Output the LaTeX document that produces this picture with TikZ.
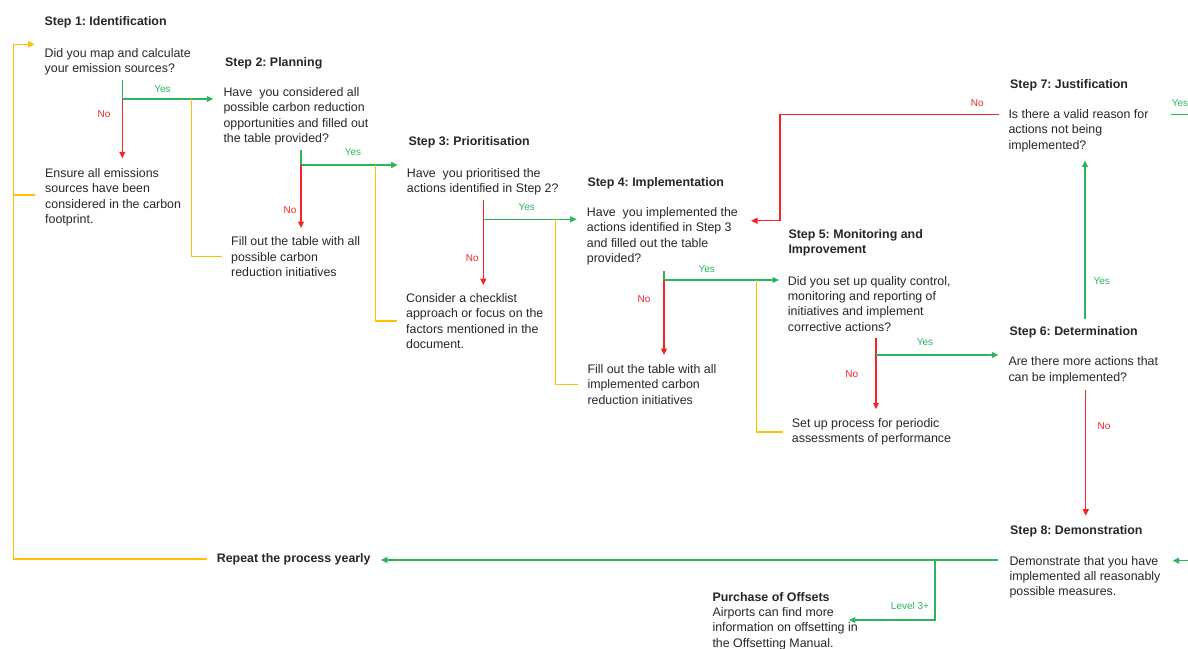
\documentclass[tikz,border=0pt]{standalone}
\usepackage{fontspec}
\setmainfont{Liberation Sans}
\usetikzlibrary{arrows.meta}
\definecolor{gr}{HTML}{2DB55D}
\definecolor{rd}{HTML}{F52525}
\definecolor{og}{HTML}{FFC000}
\definecolor{tx}{HTML}{262626}
\tikzset{
  txt/.style={anchor=north west, inner sep=0pt, align=left, text=tx, font=\fontsize{12.4}{15.3}\selectfont},
  hd/.style={txt, font=\fontsize{12.4}{15.3}\selectfont\bfseries},
  lblyes/.style={inner sep=0pt, text=gr, font=\fontsize{10}{12}\selectfont},
  lblno/.style={inner sep=0pt, text=rd, font=\fontsize{10}{12}\selectfont},
  gline/.style={draw=gr, line width=1.3pt},
  rline/.style={draw=rd, line width=1.3pt},
  oline/.style={draw=og, line width=1.3pt},
  tip/.style={-{Triangle[length=6.5pt,width=6pt]}}
}
\begin{document}
\begin{tikzpicture}[x=1pt,y=-1pt]
\useasboundingbox (0,0) rectangle (1188,648);

% ---------- texts ----------
\node[hd]  (s1h) at (44.5,16.7) {Step 1:\ Identification};
\node[txt] (q1)  at (44.5,48.3) {Did you map and calculate\\your emission sources?};
\node[txt] (n1)  at (45,168.3) {Ensure all emissions\\sources have been\\considered in the carbon\\footprint.};

\node[hd]  (s2h) at (225,57.3) {Step 2:\ Planning};
\node[txt] (q2)  at (223.3,87.3) {Have\ \ you considered all\\possible carbon reduction\\opportunities and filled out\\the table provided?};
\node[txt] (n2)  at (231,236.7) {Fill out the table with all\\possible carbon\\reduction initiatives};

\node[hd]  (s3h) at (408.3,136.7) {Step 3:\ Prioritisation};
\node[txt] (q3)  at (406.7,168.3) {Have\ \ you prioritised the\\actions identified in Step 2?};
\node[txt] (n3)  at (406,293.3) {Consider a checklist\\approach or focus on the\\factors mentioned in the\\document.};

\node[hd]  (s4h) at (587.3,177.3) {Step 4:\ Implementation};
\node[txt] (q4)  at (586.7,207.3) {Have\ \ you implemented the\\actions identified in Step 3\\and filled out the table\\provided?};
\node[txt] (n4)  at (587.3,364.3) {Fill out the table with all\\implemented carbon\\reduction initiatives};

\node[hd]  (s5h) at (788.3,229.3) {Step 5:\ Monitoring and\\Improvement};
\node[txt] (q5)  at (787.7,276) {Did you set up quality control,\\monitoring and reporting of\\initiatives and implement\\corrective actions?};
\node[txt] (n5)  at (791.7,418.3) {Set up process for periodic\\assessments of performance};

\node[hd]  (s6h) at (1009.3,326) {Step 6:\ Determination};
\node[txt] (q6)  at (1008.3,356.7) {Are there more actions that\\can be implemented?};

\node[hd]  (s7h) at (1010,79) {Step 7:\ Justification};
\node[txt] (q7)  at (1008.3,109.3) {Is there a valid reason for\\actions not being\\implemented?};

\node[hd]  (s8h) at (1010,525) {Step 8:\ Demonstration};
\node[txt] (q8)  at (1009.3,556) {Demonstrate\ that you have\\implemented\ all reasonably\\possible measures.};

\node[hd]  (rep) at (216.7,553.3) {Repeat the process yearly};
\node[txt] (off) at (712.3,592) {\textbf{Purchase of Offsets}\\Airports can find more\\information on offsetting in\\the Offsetting Manual.};

% ---------- labels ----------
\node[lblyes] (y1) at (162.5,89) {Yes};
\node[lblno]  (m1) at (104,114) {No};
\node[lblyes] (y2) at (353,152) {Yes};
\node[lblno]  (m2) at (290,210) {No};
\node[lblyes] (y3) at (526.7,207.3) {Yes};
\node[lblno]  (m3) at (472.3,257.7) {No};
\node[lblyes] (y4) at (706.7,269.3) {Yes};
\node[lblno]  (m4) at (644,299) {No};
\node[lblyes] (y5) at (925,342.3) {Yes};
\node[lblno]  (m5) at (851.7,374.3) {No};
\node[lblyes] (y6) at (1101.7,280.7) {Yes};
\node[lblno]  (m6) at (1104,426) {No};
\node[lblno]  (m7) at (977.3,102.7) {No};
\node[lblyes, anchor=west] (y7) at (1171.7,102.7) {Yes};
\node[lblyes] (lv) at (910,606) {Level 3+};

% ---------- coordinates ----------
\coordinate (t1) at (122.3,80);   \coordinate (b1) at (122.3,99);
\coordinate (t2) at (301,150);    \coordinate (b2) at (301,165);
\coordinate (t3) at (483.3,200);  \coordinate (b3) at (483.3,219.3);
\coordinate (t4) at (664,271);    \coordinate (b4) at (664,280);
\coordinate (t5) at (876,338.3);  \coordinate (b5) at (876,355);
\coordinate (o1) at (191.7,99);
\coordinate (o2) at (375.7,165);
\coordinate (o3) at (555.7,219.3);
\coordinate (o4) at (756.7,280);
\coordinate (g6) at (1085,319.3);
\coordinate (r6) at (1085.7,390);
\coordinate (r7a) at (999.3,114.3);
\coordinate (r7b) at (780,114.3);
\coordinate (r7c) at (751,220.7);
\coordinate (g7a) at (1170.7,114.3);
\coordinate (g7b) at (1188,114.3);
\coordinate (g8a) at (1188,560.7);
\coordinate (g8b) at (1172.7,560.7);
\coordinate (d8) at (998.3,560);
\coordinate (bl) at (935,560);
\coordinate (bo) at (935,620);
\coordinate (ol) at (13.3,559);
\coordinate (ot) at (13.3,44.3);
\coordinate (oe) at (13.3,195);

% ---------- step 1 ----------
\draw[gline] (t1) -- (b1);
\draw[gline,tip,shorten >=10pt] (b1) -- (b1 -| q2.west);
\draw[rline,tip,shorten >=10pt] (b1) -- (b1 |- n1.north);
\draw[oline] (o1) |- ([xshift=-9pt]n2.west);

% ---------- step 2 ----------
\draw[gline] (t2) -- (b2);
\draw[gline,tip,shorten >=9pt] (b2) -- (b2 -| q3.west);
\draw[rline,tip,shorten >=8.7pt] (b2) -- (b2 |- n2.north);
\draw[oline] (o2) |- ([xshift=-9pt]n3.west);

% ---------- step 3 ----------
\draw[rline] (t3) -- (b3);
\draw[gline,tip,shorten >=10pt] (b3) -- (b3 -| q4.west);
\draw[rline,tip,shorten >=8.3pt] (b3) -- (b3 |- n3.north);
\draw[oline] (o3) |- ([xshift=-9pt]n4.west);

% ---------- step 4 ----------
\draw[gline] (t4) -- (b4);
\draw[gline,tip,shorten >=8.7pt] (b4) -- (b4 -| q5.west);
\draw[rline,tip,shorten >=9.3pt] (b4) -- (b4 |- n4.north);
\draw[oline] (o4) |- ([xshift=-9pt]n5.west);

% ---------- step 5 ----------
\draw[rline,tip,shorten >=9pt] (t5) -- (t5 |- n5.north);
\draw[gline,tip,shorten >=10pt] (b5) -- (b5 -| q6.west);

% ---------- step 6 ----------
\draw[gline,tip,shorten >=8.6pt] (g6) -- (g6 |- q7.south);
\draw[rline,tip,shorten >=9.3pt] (r6) -- (r6 |- s8h.north);

% ---------- step 7 ----------
\draw[rline,tip] (r7a) -- (r7b) |- (r7c);
\draw[gline] (g7a) -- (g7b);

% ---------- step 8 ----------
\draw[gline,tip] (g8a) -- (g8b);
\draw[gline,tip,shorten >=10pt] (d8) -- (d8 -| rep.east);
\draw[gline,tip] (bl) -- (bo) -- ([xshift=-9pt]bo -| off.east);

% ---------- repeat loop ----------
\draw[oline,tip] ([xshift=-10pt]rep.west |- ol) -- (ol) -- (ot) -- ([xshift=-10pt]ot -| q1.west);
\draw[oline] (oe) -- ([xshift=-10pt]oe -| n1.west);
\end{tikzpicture}
\end{document}
